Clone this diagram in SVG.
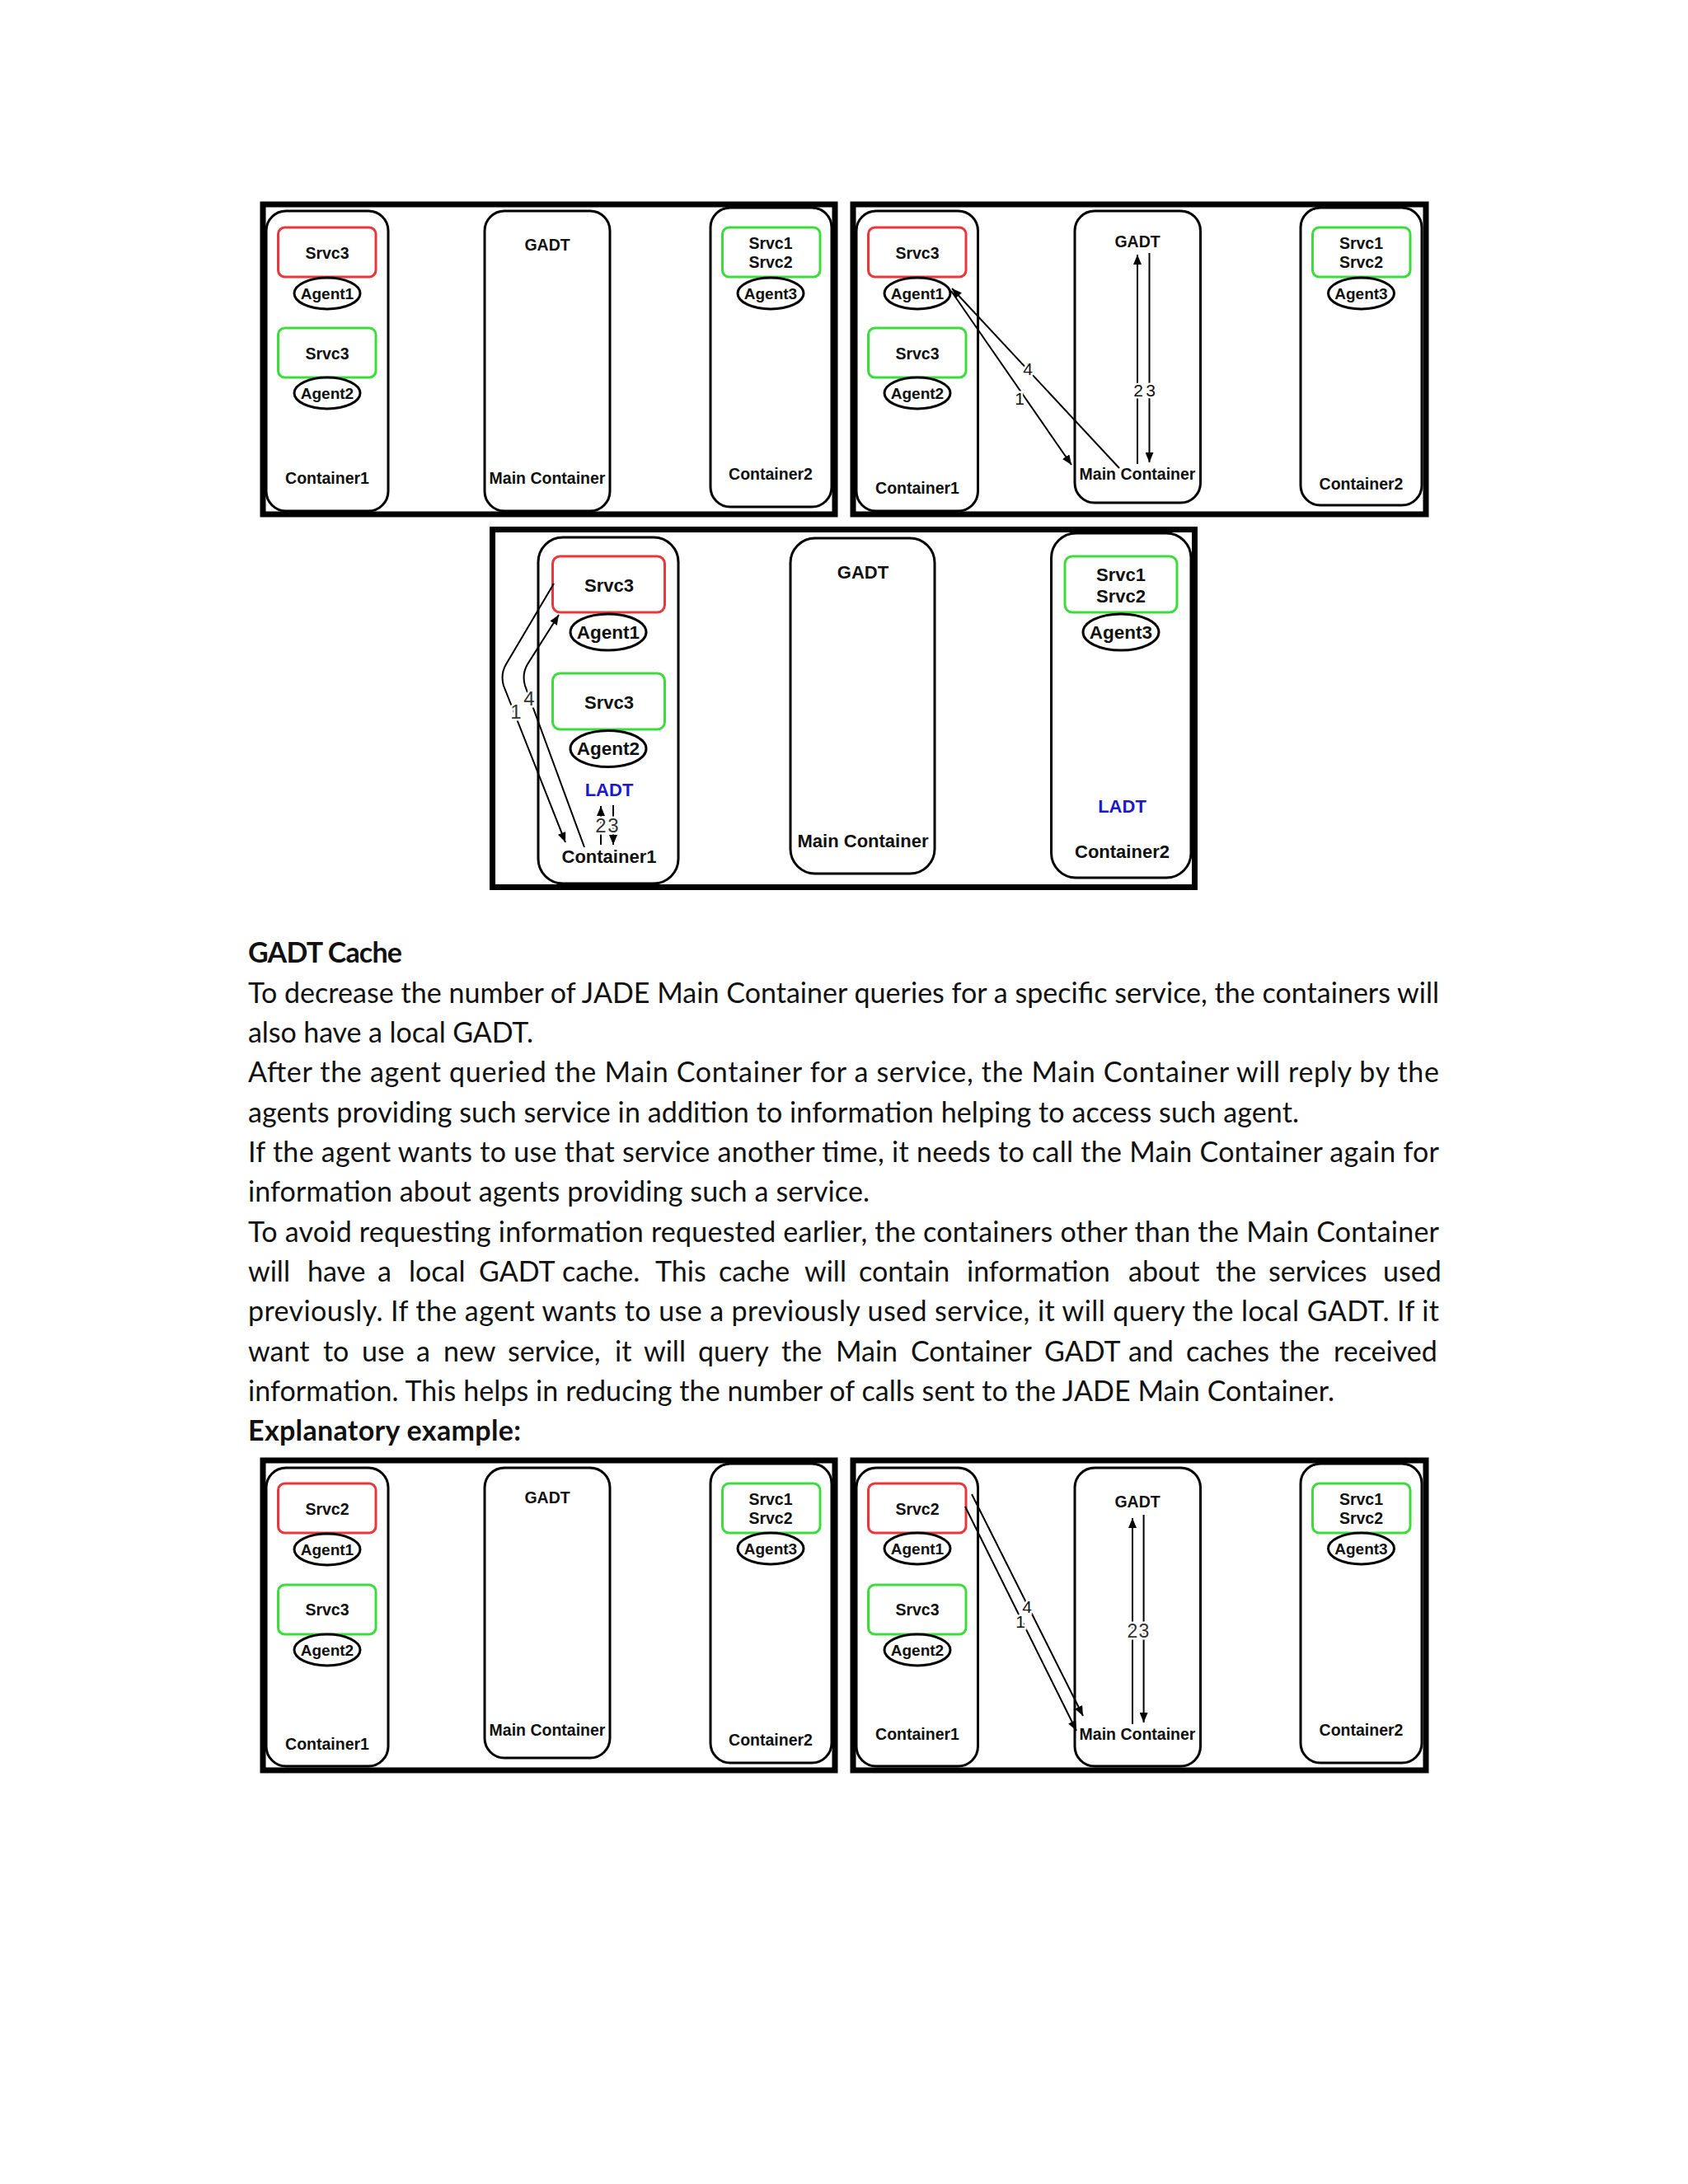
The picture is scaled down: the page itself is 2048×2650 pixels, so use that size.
<svg xmlns="http://www.w3.org/2000/svg" width="2048" height="2650" viewBox="0 0 2048 2650">
<style>
.frame{fill:none;stroke:#000;stroke-width:7}
.cont{fill:#fff;stroke:#000;stroke-width:3}
.srvR{fill:#fff;stroke:#e8383b;stroke-width:3}
.srvG{fill:#fff;stroke:#3ddc3d;stroke-width:3}
.agent{fill:#fff;stroke:#000;stroke-width:3}
.lbl{font-family:"Liberation Sans",Arial,sans-serif;font-weight:bold;font-size:19.5px;text-anchor:middle;fill:#111}
.ag{font-family:"Liberation Sans",Arial,sans-serif;font-weight:bold;font-size:19px;text-anchor:middle;fill:#111}
.big .lbl{font-size:22px}
.big .ag{font-size:22.5px}
.ladt{fill:#1a1acc}
.num{font-family:"Liberation Sans",Arial,sans-serif;font-size:21px;text-anchor:middle;fill:#111;stroke:#fff;stroke-width:5;paint-order:stroke}
.numL{font-size:24px}
.gray{fill:#333}
.conn{fill:none;stroke:#000;stroke-width:2;marker-end:url(#ah)}
.body{font-family:Lato,"Liberation Sans",sans-serif;font-size:34px;fill:#111}
.bold{font-weight:bold}
</style>
<defs>
<marker id="ah" markerUnits="userSpaceOnUse" markerWidth="12" markerHeight="10" refX="12" refY="5" orient="auto">
<path d="M0,0 L12,5 L0,10 z" fill="#000"/>
</marker>
</defs>
<rect width="2048" height="2650" fill="#fff"/>

<!-- Panel 1 -->
<g id="panel1">
<rect class="frame" x="319" y="248" width="694" height="376"/>
<g id="p1-container1">
<rect class="cont" x="323" y="256" width="148" height="364" rx="24"/>
<text class="lbl" x="397" y="587">Container1</text>
</g>
<g id="p1-srvc3-red"><rect class="srvR" x="337.5" y="276" width="118.5" height="60" rx="8"/><text class="lbl" x="397" y="314">Srvc3</text></g>
<g id="p1-agent1"><ellipse class="agent" cx="397" cy="356" rx="40" ry="19"/><text class="ag" x="397" y="363">Agent1</text></g>
<g id="p1-srvc3-green"><rect class="srvG" x="337.5" y="398" width="118.5" height="60" rx="8"/><text class="lbl" x="397" y="436">Srvc3</text></g>
<g id="p1-agent2"><ellipse class="agent" cx="397" cy="477" rx="40" ry="19"/><text class="ag" x="397" y="484">Agent2</text></g>
<g id="p1-main"><rect class="cont" x="588" y="256" width="152" height="364" rx="24"/><text class="lbl" x="664" y="304">GADT</text><text class="lbl" x="664" y="587">Main Container</text></g>
<g id="p1-container2"><rect class="cont" x="862" y="252" width="147" height="363" rx="24"/><text class="lbl" x="935" y="582">Container2</text></g>
<g id="p1-srvc12"><rect class="srvG" x="876.5" y="276" width="118.5" height="60" rx="8"/><text class="lbl" x="935" y="302">Srvc1</text><text class="lbl" x="935" y="325">Srvc2</text></g>
<g id="p1-agent3"><ellipse class="agent" cx="935" cy="356" rx="40" ry="19"/><text class="ag" x="935" y="363">Agent3</text></g>
</g>

<!-- Panel 2 -->
<g id="panel2">
<rect class="frame" x="1035" y="248" width="695" height="376"/>
<g id="p2-container1"><rect class="cont" x="1039" y="256" width="147.5" height="364" rx="24"/><text class="lbl" x="1113" y="599">Container1</text></g>
<g id="p2-srvc3-red"><rect class="srvR" x="1053.5" y="276" width="118.5" height="60" rx="8"/><text class="lbl" x="1113" y="314">Srvc3</text></g>
<g id="p2-agent1"><ellipse class="agent" cx="1113" cy="356" rx="40" ry="19"/><text class="ag" x="1113" y="363">Agent1</text></g>
<g id="p2-srvc3-green"><rect class="srvG" x="1053.5" y="398" width="118.5" height="60" rx="8"/><text class="lbl" x="1113" y="436">Srvc3</text></g>
<g id="p2-agent2"><ellipse class="agent" cx="1113" cy="477" rx="40" ry="19"/><text class="ag" x="1113" y="484">Agent2</text></g>
<g id="p2-main"><rect class="cont" x="1304" y="256" width="152.5" height="354" rx="24"/><text class="lbl" x="1380" y="300">GADT</text><text class="lbl" x="1380" y="582">Main Container</text></g>
<g id="p2-container2"><rect class="cont" x="1578" y="252" width="147" height="361" rx="24"/><text class="lbl" x="1651.5" y="594">Container2</text></g>
<g id="p2-srvc12"><rect class="srvG" x="1592.5" y="276" width="118.5" height="60" rx="8"/><text class="lbl" x="1651.5" y="302">Srvc1</text><text class="lbl" x="1651.5" y="325">Srvc2</text></g>
<g id="p2-agent3"><ellipse class="agent" cx="1651.5" cy="356" rx="40" ry="19"/><text class="ag" x="1651.5" y="363">Agent3</text></g>
</g>

<!-- Panel 3 (middle) -->
<g id="panel3" class="big">
<rect class="frame" x="597.5" y="642.5" width="852" height="434"/>
<g id="p3-container1"><rect class="cont" x="653" y="652" width="170" height="420" rx="30"/><text class="lbl" x="739" y="1047">Container1</text><text class="lbl ladt" x="739" y="966">LADT</text></g>
<g id="p3-srvc3-red"><rect class="srvR" x="670.5" y="675" width="136" height="68" rx="9"/><text class="lbl" x="739" y="718">Srvc3</text></g>
<g id="p3-agent1"><ellipse class="agent" cx="738" cy="767" rx="46" ry="22"/><text class="ag" x="738" y="775">Agent1</text></g>
<g id="p3-srvc3-green"><rect class="srvG" x="670.5" y="817" width="136" height="68" rx="9"/><text class="lbl" x="739" y="860">Srvc3</text></g>
<g id="p3-agent2"><ellipse class="agent" cx="738" cy="908.5" rx="46" ry="22"/><text class="ag" x="738" y="916">Agent2</text></g>
<g id="p3-main"><rect class="cont" x="959" y="653" width="175" height="407" rx="30"/><text class="lbl" x="1047" y="702">GADT</text><text class="lbl" x="1047" y="1028">Main Container</text></g>
<g id="p3-container2"><rect class="cont" x="1275.5" y="647" width="169.5" height="418" rx="30"/><text class="lbl ladt" x="1361.5" y="986">LADT</text><text class="lbl" x="1361.5" y="1041">Container2</text></g>
<g id="p3-srvc12"><rect class="srvG" x="1292" y="675" width="136" height="68" rx="9"/><text class="lbl" x="1360" y="705">Srvc1</text><text class="lbl" x="1360" y="731">Srvc2</text></g>
<g id="p3-agent3"><ellipse class="agent" cx="1360" cy="767" rx="46" ry="22"/><text class="ag" x="1360" y="775">Agent3</text></g>
</g>

<!-- Panel 4 -->
<g id="panel4">
<rect class="frame" x="319" y="1772" width="694" height="376"/>
<g id="p4-container1"><rect class="cont" x="323" y="1781" width="148" height="362" rx="24"/><text class="lbl" x="397" y="2123">Container1</text></g>
<g id="p4-srvc2-red"><rect class="srvR" x="337.5" y="1800" width="118.5" height="60" rx="8"/><text class="lbl" x="397" y="1838">Srvc2</text></g>
<g id="p4-agent1"><ellipse class="agent" cx="397" cy="1880" rx="40" ry="19"/><text class="ag" x="397" y="1887">Agent1</text></g>
<g id="p4-srvc3-green"><rect class="srvG" x="337.5" y="1923" width="118.5" height="60" rx="8"/><text class="lbl" x="397" y="1960">Srvc3</text></g>
<g id="p4-agent2"><ellipse class="agent" cx="397" cy="2002" rx="40" ry="19"/><text class="ag" x="397" y="2009">Agent2</text></g>
<g id="p4-main"><rect class="cont" x="588" y="1781" width="152" height="352" rx="24"/><text class="lbl" x="664" y="1824">GADT</text><text class="lbl" x="664" y="2106">Main Container</text></g>
<g id="p4-container2"><rect class="cont" x="862" y="1776" width="147" height="363" rx="24"/><text class="lbl" x="935" y="2118">Container2</text></g>
<g id="p4-srvc12"><rect class="srvG" x="876.5" y="1800" width="118.5" height="60" rx="8"/><text class="lbl" x="935" y="1826">Srvc1</text><text class="lbl" x="935" y="1849">Srvc2</text></g>
<g id="p4-agent3"><ellipse class="agent" cx="935" cy="1879" rx="40" ry="19"/><text class="ag" x="935" y="1886">Agent3</text></g>
</g>

<!-- Panel 5 -->
<g id="panel5">
<rect class="frame" x="1035" y="1772" width="695" height="376"/>
<g id="p5-container1"><rect class="cont" x="1039" y="1781" width="147.5" height="362" rx="24"/><text class="lbl" x="1113" y="2111">Container1</text></g>
<g id="p5-srvc2-red"><rect class="srvR" x="1053.5" y="1800" width="118.5" height="60" rx="8"/><text class="lbl" x="1113" y="1838">Srvc2</text></g>
<g id="p5-agent1"><ellipse class="agent" cx="1113" cy="1879" rx="40" ry="19"/><text class="ag" x="1113" y="1886">Agent1</text></g>
<g id="p5-srvc3-green"><rect class="srvG" x="1053.5" y="1923" width="118.5" height="60" rx="8"/><text class="lbl" x="1113" y="1960">Srvc3</text></g>
<g id="p5-agent2"><ellipse class="agent" cx="1113" cy="2002" rx="40" ry="19"/><text class="ag" x="1113" y="2009">Agent2</text></g>
<g id="p5-main"><rect class="cont" x="1304" y="1781" width="152.5" height="362" rx="24"/><text class="lbl" x="1380" y="1829">GADT</text><text class="lbl" x="1380" y="2111">Main Container</text></g>
<g id="p5-container2"><rect class="cont" x="1578" y="1776" width="147" height="363" rx="24"/><text class="lbl" x="1651.5" y="2106">Container2</text></g>
<g id="p5-srvc12"><rect class="srvG" x="1592.5" y="1800" width="118.5" height="60" rx="8"/><text class="lbl" x="1651.5" y="1826">Srvc1</text><text class="lbl" x="1651.5" y="1849">Srvc2</text></g>
<g id="p5-agent3"><ellipse class="agent" cx="1651.5" cy="1879" rx="40" ry="19"/><text class="ag" x="1651.5" y="1886">Agent3</text></g>
</g>

<!-- Connectors -->
<g id="connectors">
<path class="conn" d="M1380,563 L1380,309"/>
<path class="conn" d="M1394.5,307 L1394.5,561"/>
<path class="conn" d="M1154,353 L1300,564"/>
<path class="conn" d="M1358,568 L1155,350"/>
<text class="num" x="1381" y="481">2</text>
<text class="num" x="1396" y="481">3</text>
<text class="num" x="1237" y="491">1</text>
<text class="num" x="1247" y="455">4</text>

<path class="conn" d="M672,708 L614,806 Q607,818 611,832 L686,1022"/>
<path class="conn" d="M709,1028 L637,832 Q633,818 640,806 L678,746"/>
<path class="conn" d="M729,1025 L729,978"/>
<path class="conn" d="M744,977 L744,1025"/>
<text class="num numL gray" x="729" y="1010">2</text>
<text class="num numL gray" x="744" y="1010">3</text>
<text class="num numL gray" x="626" y="872">1</text>
<text class="num numL gray" x="642" y="856">4</text>

<path class="conn" d="M1374,2092 L1374,1842"/>
<path class="conn" d="M1387.6,1838 L1387.6,2090"/>
<path class="conn" d="M1171,1828 L1306,2100"/>
<path class="conn" d="M1179,1813 L1314,2082"/>
<text class="num gray" style="font-size:23px" x="1374" y="1987">2</text>
<text class="num gray" style="font-size:23px" x="1388" y="1987">3</text>
<text class="num" x="1238" y="1975">1</text>
<text class="num" x="1246" y="1957">4</text>
</g>

<!-- Body text -->
<g id="body-text" class="body">
<text class="bold" x="301" y="1168" textLength="187">GADT Cache</text>
<text x="301" y="1217" textLength="1445">To decrease the number of JADE Main Container queries for a specific service, the containers will</text>
<text x="301" y="1265" textLength="346">also have a local GADT.</text>
<text x="301" y="1313" textLength="1445">After the agent queried the Main Container for a service, the Main Container will reply by the</text>
<text x="301" y="1362" textLength="1275">agents providing such service in addition to information helping to access such agent.</text>
<text x="301" y="1410" textLength="1445">If the agent wants to use that service another time, it needs to call the Main Container again for</text>
<text x="301" y="1458" textLength="754">information about agents providing such a service.</text>
<text x="301" y="1507" textLength="1445">To avoid requesting information requested earlier, the containers other than the Main Container</text>
<text y="1555"><tspan x="301">will</tspan><tspan x="373">have</tspan><tspan x="458">a</tspan><tspan x="496">local</tspan><tspan x="581">GADT</tspan><tspan x="682">cache.</tspan><tspan x="795">This</tspan><tspan x="872">cache</tspan><tspan x="976">will</tspan><tspan x="1042">contain</tspan><tspan x="1173">information</tspan><tspan x="1369">about</tspan><tspan x="1475">the</tspan><tspan x="1539">services</tspan><tspan x="1678">used</tspan></text>
<text x="301" y="1603" textLength="1445">previously. If the agent wants to use a previously used service, it will query the local GADT. If it</text>
<text y="1652"><tspan x="301">want</tspan><tspan x="392">to</tspan><tspan x="439">use</tspan><tspan x="505">a</tspan><tspan x="538">new</tspan><tspan x="616">service,</tspan><tspan x="746">it</tspan><tspan x="781">will</tspan><tspan x="847">query</tspan><tspan x="948">the</tspan><tspan x="1014">Main</tspan><tspan x="1105">Container</tspan><tspan x="1267">GADT</tspan><tspan x="1369">and</tspan><tspan x="1439">caches</tspan><tspan x="1552">the</tspan><tspan x="1618">received</tspan></text>
<text x="301" y="1700" textLength="1318">information. This helps in reducing the number of calls sent to the JADE Main Container.</text>
<text class="bold" x="301" y="1748" textLength="331">Explanatory example:</text>
</g>
</svg>
